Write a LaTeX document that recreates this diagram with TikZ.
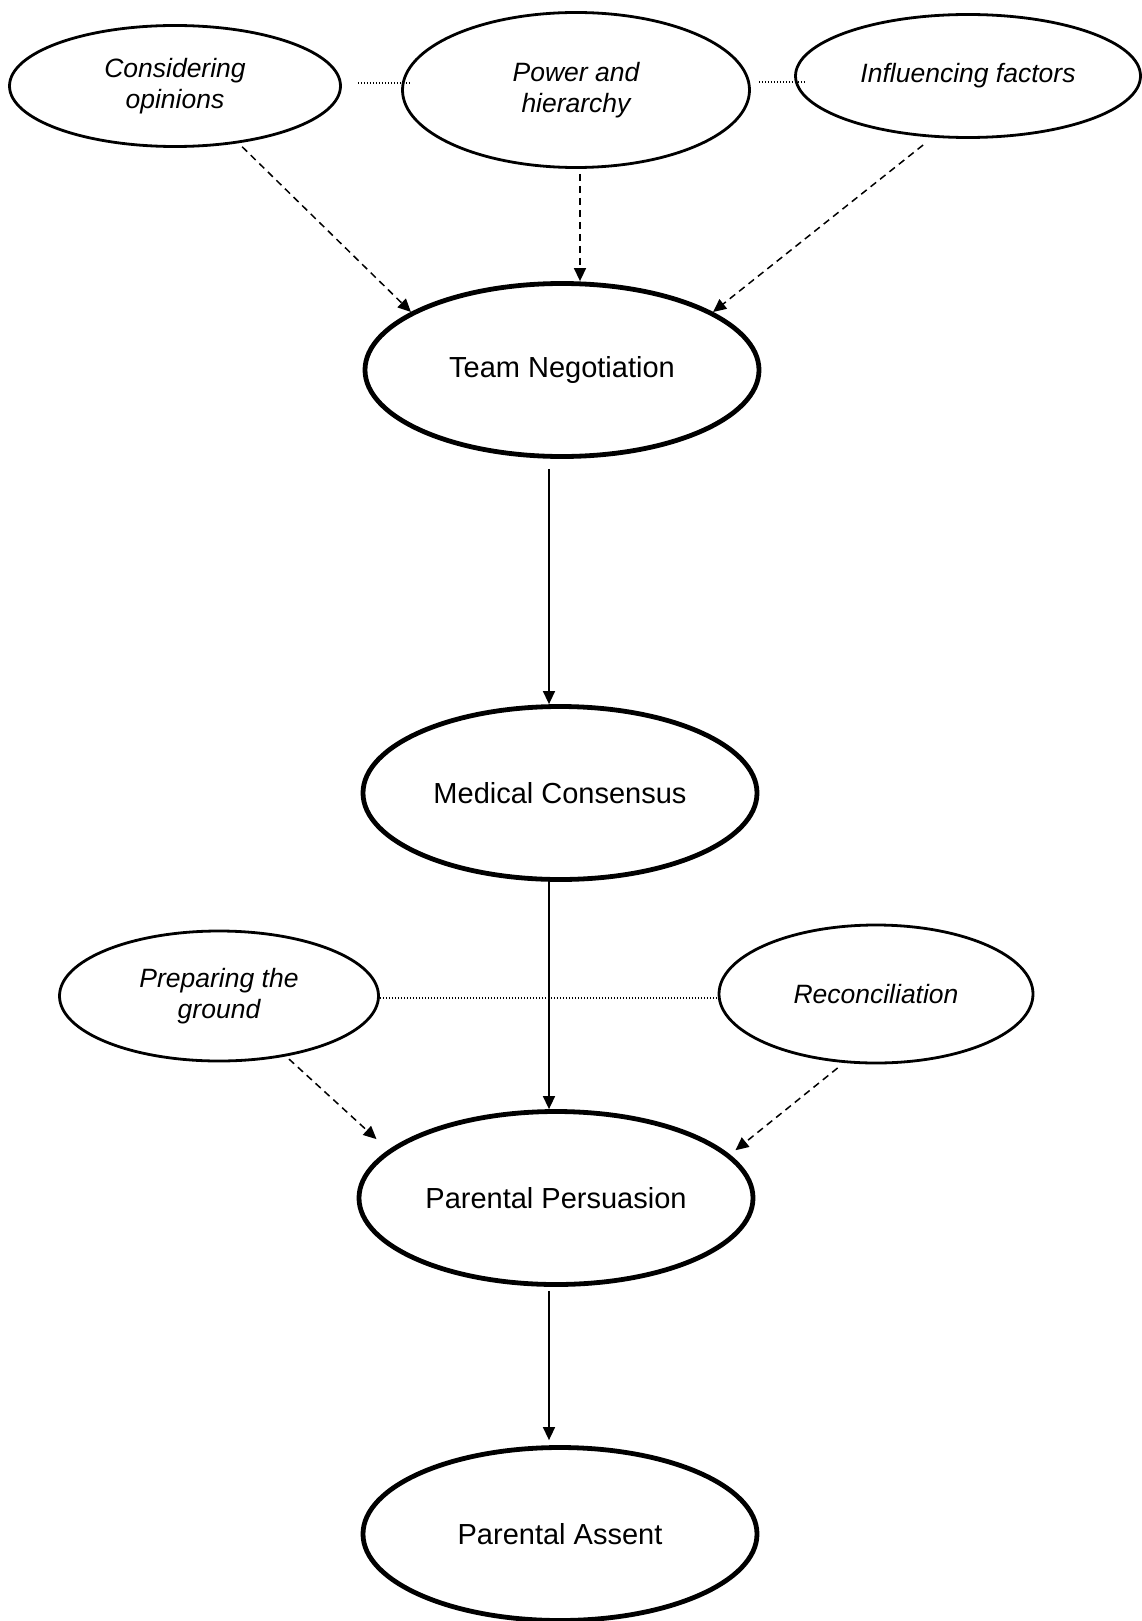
\documentclass[tikz,border=0pt]{standalone}
\usepackage{fontspec}
\setmainfont{Liberation Sans}
\usetikzlibrary{shapes.geometric,arrows.meta}

\tikzset{
  minor/.style={ellipse, draw, line width=2.8pt, inner sep=0pt,
    align=center, font=\fontsize{26.5}{31}\selectfont\itshape},
  major/.style={ellipse, draw, line width=4.8pt, inner sep=0pt,
    minimum width=394pt, minimum height=173pt,
    align=center, font=\fontsize{29}{34}\selectfont},
  flow/.style={line width=1.5pt, -{Triangle[length=13pt,width=12pt]}},
  hint/.style={flow, dash pattern=on 7pt off 5pt},
  link/.style={line width=1.5pt, dash pattern=on 1.5pt off 1.5pt},
}

\begin{document}
\begin{tikzpicture}[x=1pt,y=-1pt]
\useasboundingbox (0,0) rectangle (1142,1621);

% upper factors
\node[minor, minimum width=331pt, minimum height=121pt] (cons)  at (175,86)  {Considering\\opinions};
\node[minor, minimum width=347pt, minimum height=155pt] (power) at (576,90)  {Power and\\hierarchy};
\node[minor, minimum width=345pt, minimum height=123pt] (infl)  at (968,76)  {Influencing factors};

% main stages
\node[major] (team) at (562,370)  {Team Negotiation};
\node[major] (med)  at (560,793)  {Medical Consensus};
\node[major] (pers) at (556,1198) {Parental Persuasion};
\node[major] (asst) at (560,1534) {Parental Assent};

% lower factors
\node[minor, minimum width=319pt, minimum height=130pt] (prep)  at (219,996) {Preparing the\\ground};
\node[minor, minimum width=314pt, minimum height=138pt] (recon) at (876,994) {Reconciliation};

% dotted links between factors (horizontal)
\draw[link] ([xshift=16pt,yshift=3pt]cons.east) coordinate (la)
  -- ([xshift=10pt]la -| power.west);
\draw[link] ([xshift=8pt,yshift=8pt]power.east) coordinate (lb)
  -- ([xshift=10pt]lb -| infl.west);
\draw[link] ([yshift=-2pt]prep.east) -- ([yshift=-2pt]prep.east -| recon.west);

% factors feeding the stages
\draw[hint, shorten <=5pt] (cons.-42) -- (team.159);
\draw[hint] ([xshift=4pt,yshift=-5pt]power.south) -- ([xshift=4pt]power.south |- team.north);
\draw[hint, shorten <=12pt] (infl.-120) -- (team.21);
\draw[hint, shorten <=4pt, shorten >=16pt] (prep.-42) -- (pers.164);
\draw[hint, shorten <=8pt, shorten >=7pt] (recon.-115) -- (pers.14);

% main flow
\draw[flow] ([xshift=-13pt,yshift=-10pt]team.south) -- ([xshift=-13pt]team.south |- med.north);
\draw[flow] ([xshift=-11pt]med.south) -- ([xshift=-11pt]med.south |- pers.north);
\draw[flow] ([xshift=-7pt,yshift=-4pt]pers.south) -- ([xshift=-7pt,yshift=5pt]pers.south |- asst.north);
\end{tikzpicture}
\end{document}
